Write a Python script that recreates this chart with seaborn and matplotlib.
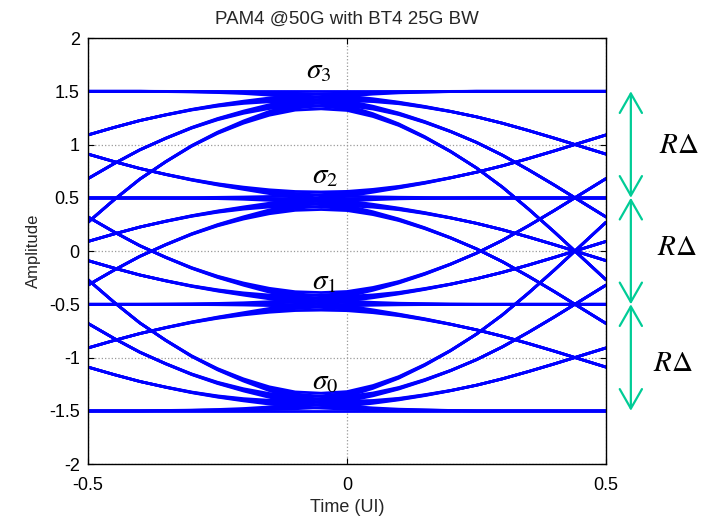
import itertools

import numpy as np
import pandas as pd
import matplotlib
matplotlib.use("Agg")
import matplotlib.pyplot as plt
import seaborn as sns

# PAM4 symbol levels
LEVELS = [-1.5, -0.5, 0.5, 1.5]

# sampling instants across one unit interval
TIME_UI = np.linspace(-0.5, 0.5, 21)

# normalised step response of the BT4 receiver, sampled at
# tau = -0.94, -0.89, ..., 1.06 UI (tau measured from the 50 % crossing)
STEP_RESP = [
    0.000, 0.000, 0.000, 0.001, 0.002, 0.004, 0.007, 0.012, 0.019, 0.030,
    0.045, 0.070, 0.102, 0.142, 0.188, 0.240, 0.300, 0.368, 0.440,
    0.515, 0.590, 0.660, 0.725, 0.780, 0.830, 0.872, 0.907, 0.937, 0.960,
    0.975, 0.985, 0.991, 0.995, 0.997, 0.999, 1.000, 1.000, 1.000, 1.000,
    1.000, 1.000,
]
# index offset between the previous-symbol edge and the next-symbol edge (1 UI)
EDGE_SHIFT = 20

SIGMA_LABELS = [r"$\sigma_0$", r"$\sigma_1$", r"$\sigma_2$", r"$\sigma_3$"]
SIGMA_POS = [(-0.067, -1.30), (-0.067, -0.36), (-0.067, 0.64), (-0.079, 1.62)]

SPACING_LABEL = r"$R\Delta$"
ARROW_X = 0.548
SPACING_LABEL_POS = [(0.641, 1.0), (0.637, 0.04), (0.629, -1.05)]

# ---- build the eye traces: previous / current / next symbol ----------------
step = np.asarray(STEP_RESP)
n = len(TIME_UI)
rows = []
for k, (a, b, c) in enumerate(itertools.product(LEVELS, repeat=3)):
    y = a + (b - a) * step[EDGE_SHIFT:EDGE_SHIFT + n] + (c - b) * step[:n]
    rows.append(pd.DataFrame({"time": TIME_UI, "amp": y, "trace": k}))
eye = pd.concat(rows, ignore_index=True)

# ---- figure ---------------------------------------------------------------
sns.set_theme(style="white")
plt.rcParams["font.family"] = ["Liberation Sans", "DejaVu Sans"]
plt.rcParams["mathtext.fontset"] = "stix"

fig = plt.figure(figsize=(7.10, 5.18), dpi=100)
ax = fig.add_axes([0.124, 0.1042, 0.7295, 0.8224])

sns.lineplot(data=eye, x="time", y="amp", units="trace", estimator=None,
             color="#0000ff", lw=2.0, ax=ax, legend=False)

ax.set_xlim(-0.5, 0.5)
ax.set_ylim(-2, 2)
ax.set_xticks([-0.5, 0, 0.5])
ax.set_xticklabels(["-0.5", "0", "0.5"])
ax.set_yticks(np.arange(-2, 2.01, 0.5))
ax.set_yticklabels(["-2", "-1.5", "-1", "-0.5", "0", "0.5", "1", "1.5", "2"])
ax.grid(True, linestyle=":", color="#9a9a9a", lw=0.9)
ax.set_axisbelow(True)
ax.tick_params(direction="in", top=True, right=True, bottom=True, left=True,
               length=4, width=0.8, labelsize=13, colors="black")
ax.tick_params(axis="x", pad=9)
ax.tick_params(axis="y", pad=6)
for sp in ax.spines.values():
    sp.set_color("black")
    sp.set_linewidth(1.0)

ax.set_title("PAM4 @50G with BT4 25G BW", fontsize=13.5, pad=10)
ax.set_xlabel("Time (UI)", fontsize=13, labelpad=4)
ax.set_ylabel("Amplitude", fontsize=12, labelpad=6)

for lab, (x, y) in zip(SIGMA_LABELS, SIGMA_POS):
    ax.text(x, y, lab, fontsize=21, ha="left", va="baseline", color="black")

green = "#00cc96"
for lo, hi in zip(LEVELS[:-1], LEVELS[1:]):
    ax.annotate("", xy=(ARROW_X, lo), xytext=(ARROW_X, hi),
                arrowprops=dict(arrowstyle="<->,head_length=1.4,head_width=0.8",
                                color=green, lw=1.6, shrinkA=0, shrinkB=0,
                                mutation_scale=10),
                annotation_clip=False)
for x, y in SPACING_LABEL_POS:
    ax.text(x, y, SPACING_LABEL, fontsize=21, ha="center", va="center",
            color="black", clip_on=False)

fig.savefig("out.png", dpi=100)
